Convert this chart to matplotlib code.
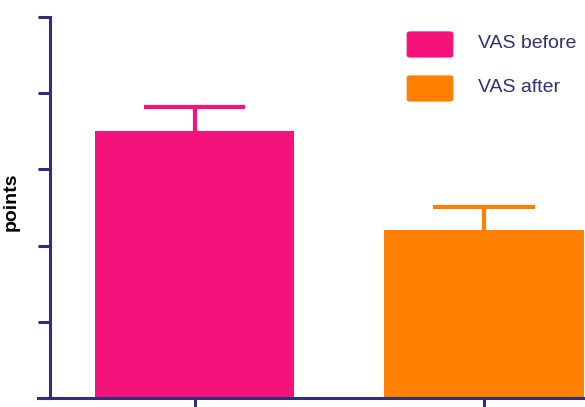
import numpy as np
import matplotlib.pyplot as plt
from matplotlib.patches import FancyBboxPatch

groups = ['VAS before', 'VAS after']
means = [7.0, 4.41]
errs = [0.64, 0.60]
colors = ['#F3137B', '#FF8000']
yticks = [0, 2, 4, 6, 8, 10]

navy = '#2E3178'
W, H = 585, 407

fig = plt.figure(figsize=(5.85, 4.07), dpi=100)
ax = fig.add_axes([50/W, 9/H, 1 - 50/W, (398-17)/H])

x = np.arange(len(groups))
bars = ax.bar(x, means, width=0.69, color=colors, zorder=2)
# upper error only: stem + cap
tops = np.array(means) + np.array(errs)
ax.vlines(x, means, tops, colors=colors, linewidth=3, zorder=1)
ax.hlines(tops, x - 0.176, x + 0.176, colors=colors, linewidth=3, zorder=1)

ax.set_xlim(-0.5, 1.35)
ax.set_ylim(0, 10)
ax.set_yticks(yticks)
ax.set_xticks(x)
ax.set_yticklabels([])
ax.set_xticklabels([])
ax.tick_params(axis='both', direction='out', length=9, width=2.2, color=navy)

for s in ['top', 'right']:
    ax.spines[s].set_visible(False)
for s in ['left', 'bottom']:
    ax.spines[s].set_color(navy)
    ax.spines[s].set_linewidth(2.2)
ax.spines['bottom'].set_bounds(-0.54, 1.35)

ax.set_ylabel('points', fontsize=14, fontweight='bold', family='Liberation Sans')
ax.yaxis.set_label_coords((19.5 - 50) / 535, (398 - 202) / 381)

# legend drawn by hand: rounded swatches + navy labels
box_tops = [31, 75]
for label, c, yt in zip(groups, colors, box_tops):
    fig.patches.append(FancyBboxPatch(
        (409/W, 1 - (yt + 25)/H), 42/W, 23/H,
        boxstyle='round,pad=0.004,rounding_size=0.006',
        transform=fig.transFigure, facecolor=c, edgecolor='none'))
    fig.text(478/W, 1 - (yt + 13)/H, label, color=navy, fontsize=14,
             family='Liberation Sans', va='center', ha='left')

fig.savefig('out.png', dpi=100)
